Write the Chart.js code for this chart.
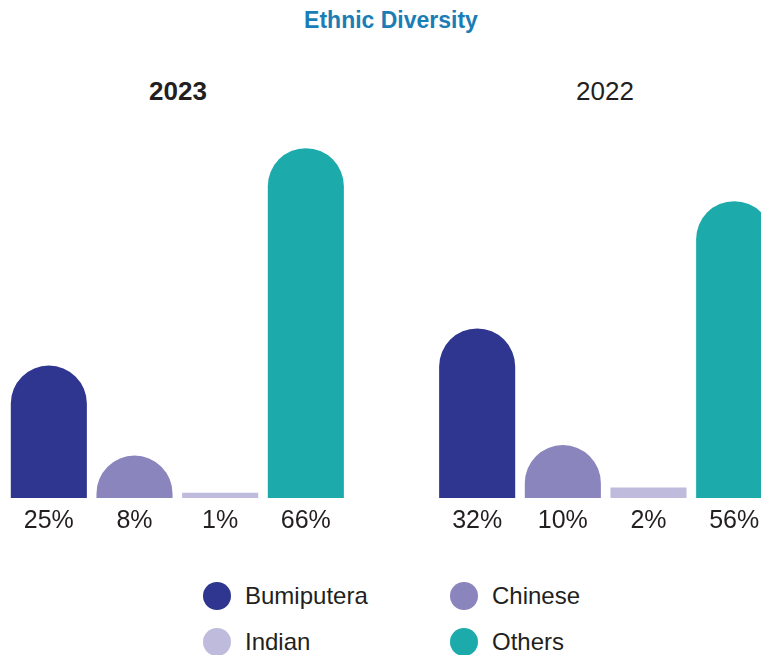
<!DOCTYPE html>
<html>
<head>
<meta charset="utf-8">
<script src="https://cdn.jsdelivr.net/npm/chart.js@4/dist/chart.umd.min.js"></script>
<style>
  html, body { margin: 0; padding: 0; background: #fff; overflow: hidden; }
  body { width: 761px; height: 655px; position: relative; font-family: "Liberation Sans", Arial, sans-serif; color: #231f20; }
  #chartBox { position: absolute; left: 0; top: 110px; width: 790px; height: 440px; }
  .title { position: absolute; left: 391px; top: 9px; transform: translateX(-50%); font-size: 23px; line-height: 23px; font-weight: bold; color: #1b7db6; white-space: nowrap; }
  .year { position: absolute; top: 78px; transform: translateX(-50%); font-size: 26px; line-height: 26px; white-space: nowrap; }
  .year.bold { font-weight: bold; }
  .legend-item { position: absolute; height: 28px; display: flex; align-items: center; font-size: 24px; white-space: nowrap; }
  .legend-item span.dot { width: 28px; height: 28px; border-radius: 50%; margin-right: 14px; flex: none; }
</style>
</head>
<body>
<div class="title">Ethnic Diversity</div>
<div class="year bold" style="left:178px">2023</div>
<div class="year" style="left:605px">2022</div>
<div id="chartBox"><canvas id="ethnic_chart"></canvas></div>
<div id="legend"></div>

<script>
const groups = ['Bumiputera', 'Chinese', 'Indian', 'Others'];
const colors = ['#2e3690', '#8a85bd', '#bfbbdc', '#1caaaa'];
const values2023 = [25, 8, 1, 66];
const values2022 = [32, 10, 2, 56];

// one empty slot keeps the two years apart
const barValues = [...values2023, null, ...values2022];
const barLabels = barValues.map(v => v == null ? '' : v + '%');
const barColors = [...colors, 'rgba(0,0,0,0)', ...colors];

// bars with a round cap on top, flat when too short for the cap
const domeBars = {
    id: 'domeBars',
    beforeDatasetsDraw(chart) {
        const ctx = chart.ctx;
        const meta = chart.getDatasetMeta(0);
        meta.data.forEach((bar, i) => {
            if (barValues[i] == null) return;
            const {x, y, base, width} = bar.getProps(['x', 'y', 'base', 'width'], true);
            const r = width / 2;
            ctx.save();
            ctx.fillStyle = barColors[i];
            ctx.beginPath();
            if (base - y > r) {
                ctx.moveTo(x - r, base);
                ctx.lineTo(x - r, y + r);
                ctx.arc(x, y + r, r, Math.PI, 0);
                ctx.lineTo(x + r, base);
            } else {
                ctx.rect(x - r, y, width, base - y);
            }
            ctx.closePath();
            ctx.fill();
            ctx.restore();
        });
        return false;
    }
};

let myChart = document.getElementById('ethnic_chart').getContext('2d');
let ethnicChart = new Chart(myChart, {
    type: 'bar',
    data: {
        labels: barLabels,
        datasets: [{
            data: barValues,
            backgroundColor: barColors,
            categoryPercentage: 1,
            barPercentage: 0.888
        }]
    },
    options: {
        responsive: true,
        maintainAspectRatio: false,
        animation: false,
        events: [],
        layout: { padding: { left: 6, right: 13, top: 17, bottom: 6 } },
        plugins: { legend: { display: false }, tooltip: { enabled: false } },
        scales: {
            x: {
                grid: { display: false, drawTicks: false },
                border: { display: false },
                ticks: {
                    color: '#231f20',
                    padding: 8,
                    font: { family: '"Liberation Sans", Arial, sans-serif', size: 25 }
                }
            },
            y: { display: false, min: 0, max: 70 }
        }
    },
    plugins: [domeBars]
});

// legend laid out in two rows of two
const legendPos = [[203, 582], [450, 582], [203, 628], [450, 628]];
groups.forEach((g, i) => {
    const markup = `<div class="legend-item" style="left:${legendPos[i][0]}px;top:${legendPos[i][1]}px">` +
        `<span class="dot" style="background:${colors[i]}"></span>${g}</div>`;
    document.getElementById('legend').insertAdjacentHTML('beforeend', markup);
});
</script>
</body>
</html>
